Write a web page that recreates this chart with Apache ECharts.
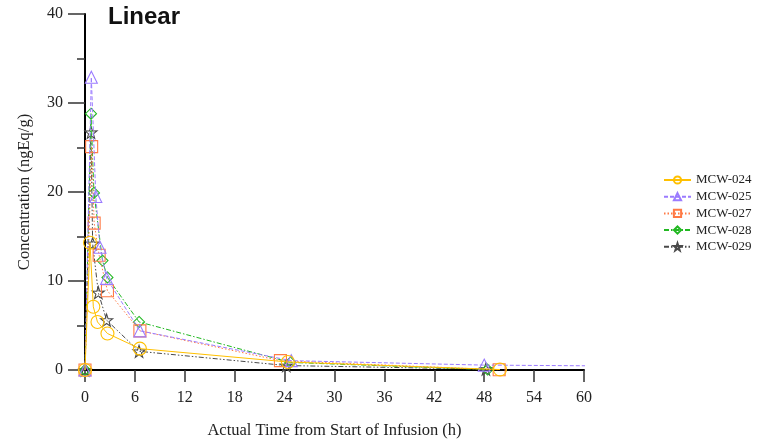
<!DOCTYPE html>
<html>
<head>
<meta charset="utf-8">
<script src="https://cdn.jsdelivr.net/npm/echarts@6/dist/echarts.min.js"></script>
<style>html,body{margin:0;padding:0;background:#fff}#c{width:758px;height:442px}</style>
</head>
<body>
<div id="c"></div>
<script>
// Data (time in h, concentration in ngEq/g)
var seriesNames = ['MCW-024', 'MCW-025', 'MCW-027', 'MCW-028', 'MCW-029'];
var mcw024 = [[0, 0], [0.6, 14.3], [1.0, 7.1], [1.5, 5.4], [2.7, 4.1], [6.6, 2.4], [24.4, 0.9], [49.9, 0.05]];
var mcw025 = [[0, 0], [0.76, 32.9], [1.3, 19.5], [1.8, 13.8], [2.6, 10.3], [6.6, 4.4], [24.8, 1.05], [48.0, 0.55], [72, 0.4]];
var mcw027 = [[0, 0], [0.8, 25.1], [1.1, 16.5], [1.7, 12.9], [2.7, 8.9], [6.6, 4.4], [23.5, 1.05], [49.8, 0.02]];
var mcw028 = [[0, 0], [0.72, 28.8], [1.08, 19.9], [2.1, 12.3], [2.7, 10.4], [6.5, 5.4], [24.7, 0.85], [48.4, 0.05]];
var mcw029 = [[0, 0], [0.72, 26.7], [0.92, 14.2], [1.6, 8.7], [2.6, 5.6], [6.5, 2.1], [24.2, 0.5], [48.2, 0.1]];
var xTicks = [0, 6, 12, 18, 24, 30, 36, 42, 48, 54, 60];
var yTicks = [0, 10, 20, 30, 40];

var starPath = 'path://M50,0 L61.8,35.1 L97.6,34.5 L69.1,56.7 L79.4,90.5 L50,70 L20.6,90.5 L30.9,56.7 L2.4,34.5 L38.2,35.1 Z';

var colors = ['#FFC000', '#9B7BFF', '#FF7A45', '#22B822', '#4a4a4a'];
var symbols = ['circle', 'triangle', 'rect', 'diamond', starPath];
var sizes = [13, 12, 12, 11, 12];
var dashes = ['solid', [4, 2], [1.5, 2], [5, 2, 1.5, 2], [5, 2, 1.5, 2, 1.5, 2]];
var datasets = [mcw024, mcw025, mcw027, mcw028, mcw029];

var serif = '"Liberation Serif", "DejaVu Serif", serif';

var series = seriesNames.map(function (n, i) {
  return {
    name: n,
    type: 'line',
    data: datasets[i],
    symbol: symbols[i],
    symbolSize: sizes[i],
    showAllSymbol: true,
    clip: true,
    lineStyle: { color: colors[i], width: 1, type: dashes[i] },
    itemStyle: { color: 'rgba(255,255,255,0)', borderColor: colors[i], borderWidth: 1.1 },
    emphasis: { disabled: true },
    z: 10 - i
  };
});

var chart = echarts.init(document.getElementById('c'), null, { renderer: 'canvas' });
chart.setOption({
  animation: false,
  backgroundColor: '#fff',
  title: {
    text: 'Linear',
    left: 103, top: 0,
    textStyle: { fontFamily: '"Liberation Sans", Arial, sans-serif', fontWeight: 'bold', fontSize: 24, color: '#111' }
  },
  legend: {
    orient: 'vertical',
    left: 658, top: 168,
    itemWidth: 27, itemHeight: 9, itemGap: 2.7,
    textStyle: { fontFamily: serif, fontSize: 13, color: '#222', lineHeight: 14 },
    data: seriesNames
  },
  grid: { left: 85, right: 174, top: 14, bottom: 72, containLabel: false, outerBoundsMode: 'none' },
  xAxis: {
    type: 'value', min: 0, max: 60, interval: 6,
    name: 'Actual Time from Start of Infusion (h)',
    nameLocation: 'middle', nameGap: 52,
    nameTextStyle: { fontFamily: serif, fontSize: 16.5, color: '#222' },
    axisLine: { show: true, onZero: false, lineStyle: { color: '#000', width: 2 } },
    axisTick: { show: true, length: 12, lineStyle: { color: '#333', width: 1.5 } },
    axisLabel: { margin: 20, fontFamily: serif, fontSize: 16, color: '#222',
      formatter: function (v) { return xTicks.indexOf(v) >= 0 ? String(v) : ''; } },
    splitLine: { show: false }
  },
  yAxis: {
    type: 'value', min: 0, max: 40, interval: 10,
    name: 'Concentration (ngEq/g)',
    nameLocation: 'middle', nameGap: 52,
    nameTextStyle: { fontFamily: serif, fontSize: 16.5, color: '#222' },
    axisLine: { show: true, onZero: false, lineStyle: { color: '#000', width: 2 } },
    axisTick: { show: true, length: 17, lineStyle: { color: '#333', width: 1.5 } },
    minorTick: { show: true, splitNumber: 2, length: 8, lineStyle: { color: '#333', width: 1.5 } },
    axisLabel: { margin: 22, fontFamily: serif, fontSize: 16, color: '#222',
      formatter: function (v) { return yTicks.indexOf(v) >= 0 ? String(v) : ''; } },
    splitLine: { show: false }
  },
  series: series
});
</script>
</body>
</html>
